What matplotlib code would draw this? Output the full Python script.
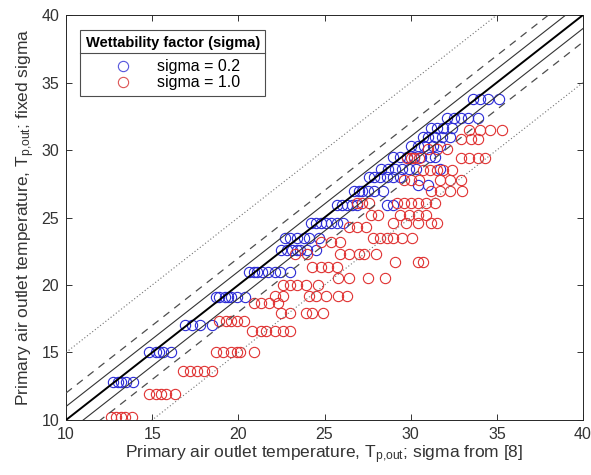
import numpy as np
import matplotlib
matplotlib.use("Agg")
import matplotlib.pyplot as plt
from matplotlib.lines import Line2D

plt.rcParams['font.family'] = ['Liberation Sans', 'DejaVu Sans']
plt.rcParams['mathtext.default'] = 'regular'

# rows of points: (y value, x values)
blue_rows = [
    (12.8, [12.7, 13.0, 13.2, 13.5, 13.9]),
    (15.0, [14.8, 15.2, 15.4, 15.6, 16.1]),
    (17.0, [16.9, 17.3, 17.8, 18.5]),
    (19.1, [18.7, 18.9, 19.2, 19.4, 19.6, 19.9, 20.4]),
    (21.0, [20.6, 20.9, 21.1, 21.4, 21.7, 22.1, 22.4, 23.0]),
    (22.6, [22.5, 22.8, 23.1, 23.4, 23.6, 24.0, 24.5]),
    (23.5, [22.7, 23.0, 23.4, 23.8, 24.1, 24.7]),
    (24.6, [24.2, 24.5, 24.8, 25.1, 25.4, 25.7, 26.1]),
    (25.9, [25.7, 26.0, 26.3, 26.6, 26.9, 28.6, 29.0]),
    (27.0, [26.7, 27.0, 27.2, 27.5, 27.9, 28.4]),
    (27.4, [30.4, 31.0]),
    (28.0, [27.6, 27.9, 28.2, 28.6, 29.0, 29.4]),
    (28.6, [28.3, 28.7, 29.1, 29.5, 29.9, 30.3, 31.7]),
    (29.5, [29.0, 29.4, 29.8, 30.2, 30.6, 31.1, 31.4]),
    (30.3, [30.0, 30.4, 30.8, 31.3, 31.7]),
    (31.0, [30.7, 31.0, 31.4, 31.8, 32.3]),
    (31.6, [31.2, 31.5, 31.9, 32.4]),
    (32.4, [32.1, 32.5, 32.9, 33.3, 33.9]),
    (33.8, [33.6, 34.0, 34.5, 35.1]),
]

red_rows = [
    (10.2, [12.6, 12.9, 13.2, 13.4, 13.8]),
    (11.9, [14.8, 15.2, 15.5, 15.8, 16.3]),
    (13.6, [16.8, 17.2, 17.6, 18.0, 18.5]),
    (15.0, [18.7, 19.1, 19.6, 19.9, 20.1, 20.9]),
    (16.6, [20.8, 21.3, 21.6, 22.1, 22.6, 23.0]),
    (17.3, [18.9, 19.3, 19.6, 19.9, 20.3]),
    (17.9, [22.5, 23.0, 23.9, 24.3, 24.9]),
    (18.7, [20.9, 21.3, 21.8, 22.3]),
    (19.2, [22.1, 22.6, 24.1, 24.5, 25.1, 25.8, 26.3]),
    (20.0, [22.6, 23.0, 23.4, 23.9, 24.6]),
    (20.5, [25.8, 26.4, 27.5, 28.5]),
    (21.3, [24.3, 24.8, 25.2, 25.7]),
    (21.7, [29.1, 30.4, 30.7]),
    (22.3, [23.3, 24.0, 25.9, 26.4, 27.0, 27.3, 28.0]),
    (23.2, [24.8, 25.4, 25.9]),
    (23.5, [27.8, 28.2, 28.6, 29.0, 29.5, 30.1]),
    (24.3, [26.4, 26.9, 27.4]),
    (24.6, [29.0, 29.7, 30.4, 31.2, 31.5]),
    (25.2, [27.7, 28.1, 29.4, 29.9, 30.4, 30.9]),
    (26.1, [26.9, 27.2, 27.6, 29.2, 29.6, 30.0, 30.4, 30.9, 31.4]),
    (27.0, [31.2, 31.7, 32.3, 33.0]),
    (27.8, [29.6, 30.0, 30.5, 31.7, 32.3, 32.9]),
    (28.5, [30.7, 31.1, 31.5, 31.9, 32.4]),
    (29.4, [29.8, 30.0, 30.2, 30.5, 32.9, 33.4, 33.9, 34.3]),
    (30.1, [31.0, 31.5, 32.1]),
    (30.8, [32.9, 33.5, 33.9]),
    (31.5, [33.4, 34.0, 34.6, 35.3]),
]

band_offsets = [1, 2, 5]
axis_ticks = [10, 15, 20, 25, 30, 35, 40]


def rows_to_xy(rows):
    xs, ys = [], []
    for y, row in rows:
        xs.extend(row)
        ys.extend([y] * len(row))
    return np.array(xs), np.array(ys)


fig = plt.figure(figsize=(5.91, 4.75), dpi=100)
ax = fig.add_axes([0.1117, 0.1158, 0.8748, 0.8526])

line_x = np.array([10, 40])
ax.plot(line_x, line_x, color='black', lw=1.4, zorder=3)
styles = {1: dict(ls='-', color='0.2', lw=0.8),
          2: dict(ls=(0, (6, 5)), color='0.3', lw=0.9),
          5: dict(ls=(0, (1, 2)), color='0.45', lw=0.8)}
for off in band_offsets:
    ax.plot(line_x, line_x + off, zorder=3, **styles[off])
    ax.plot(line_x, line_x - off, zorder=3, **styles[off])

bx, by = rows_to_xy(blue_rows)
rx, ry = rows_to_xy(red_rows)
ax.plot(bx, by, 'o', mfc='none', mec='#2b2bd6', mew=0.8, ms=7.4, zorder=2)
ax.plot(rx, ry, 'o', mfc='none', mec='#e03232', mew=0.8, ms=7.4, zorder=2)

ax.set_xlim(10, 40)
ax.set_ylim(10, 40)
ax.set_xticks(axis_ticks)
ax.set_yticks(axis_ticks)
ax.tick_params(direction='in', top=True, right=True, length=4, width=0.7,
               labelsize=11.5, colors='0.2', pad=5)
for sp in ax.spines.values():
    sp.set_color('0.15')
    sp.set_linewidth(0.7)

ax.set_xlabel(r'Primary air outlet temperature, T$_{p{,}out}$; sigma from [8]',
              fontsize=12.5, color='0.2', labelpad=1)
ax.set_ylabel(r'Primary air outlet temperature, T$_{p{,}out}$; fixed sigma',
              fontsize=12.5, color='0.2', labelpad=3)

handles = [Line2D([], [], ls='none', marker='o', mfc='none', mec='#5555dd', mew=0.8, ms=7.4),
           Line2D([], [], ls='none', marker='o', mfc='none', mec='#dd5555', mew=0.8, ms=7.4)]
leg = ax.legend(handles, ['sigma = 0.2', 'sigma = 1.0'], loc='upper left',
                bbox_to_anchor=(0.027, 0.963), borderaxespad=0, fancybox=False,
                edgecolor='0.3', framealpha=1, fontsize=11.5, title='Wettability factor (sigma)',
                title_fontproperties={'weight': 'bold', 'size': 10.5},
                handletextpad=1.0, labelspacing=0.05, borderpad=0.35, handlelength=2.2)
leg.get_frame().set_linewidth(0.8)
leg._legend_box.sep = 7

# separator under the legend title
fig.canvas.draw()
frame = leg.get_frame().get_window_extent()
title_bb = leg.get_title().get_window_extent()
ysep = title_bb.y0 - 3
inv = fig.transFigure.inverted()
(x0, y0), (x1, _) = inv.transform([(frame.x0, ysep), (frame.x1, ysep)])
fig.add_artist(Line2D([x0, x1], [y0, y0], color='0.3', lw=0.8))

fig.savefig('out.png', dpi=100)
